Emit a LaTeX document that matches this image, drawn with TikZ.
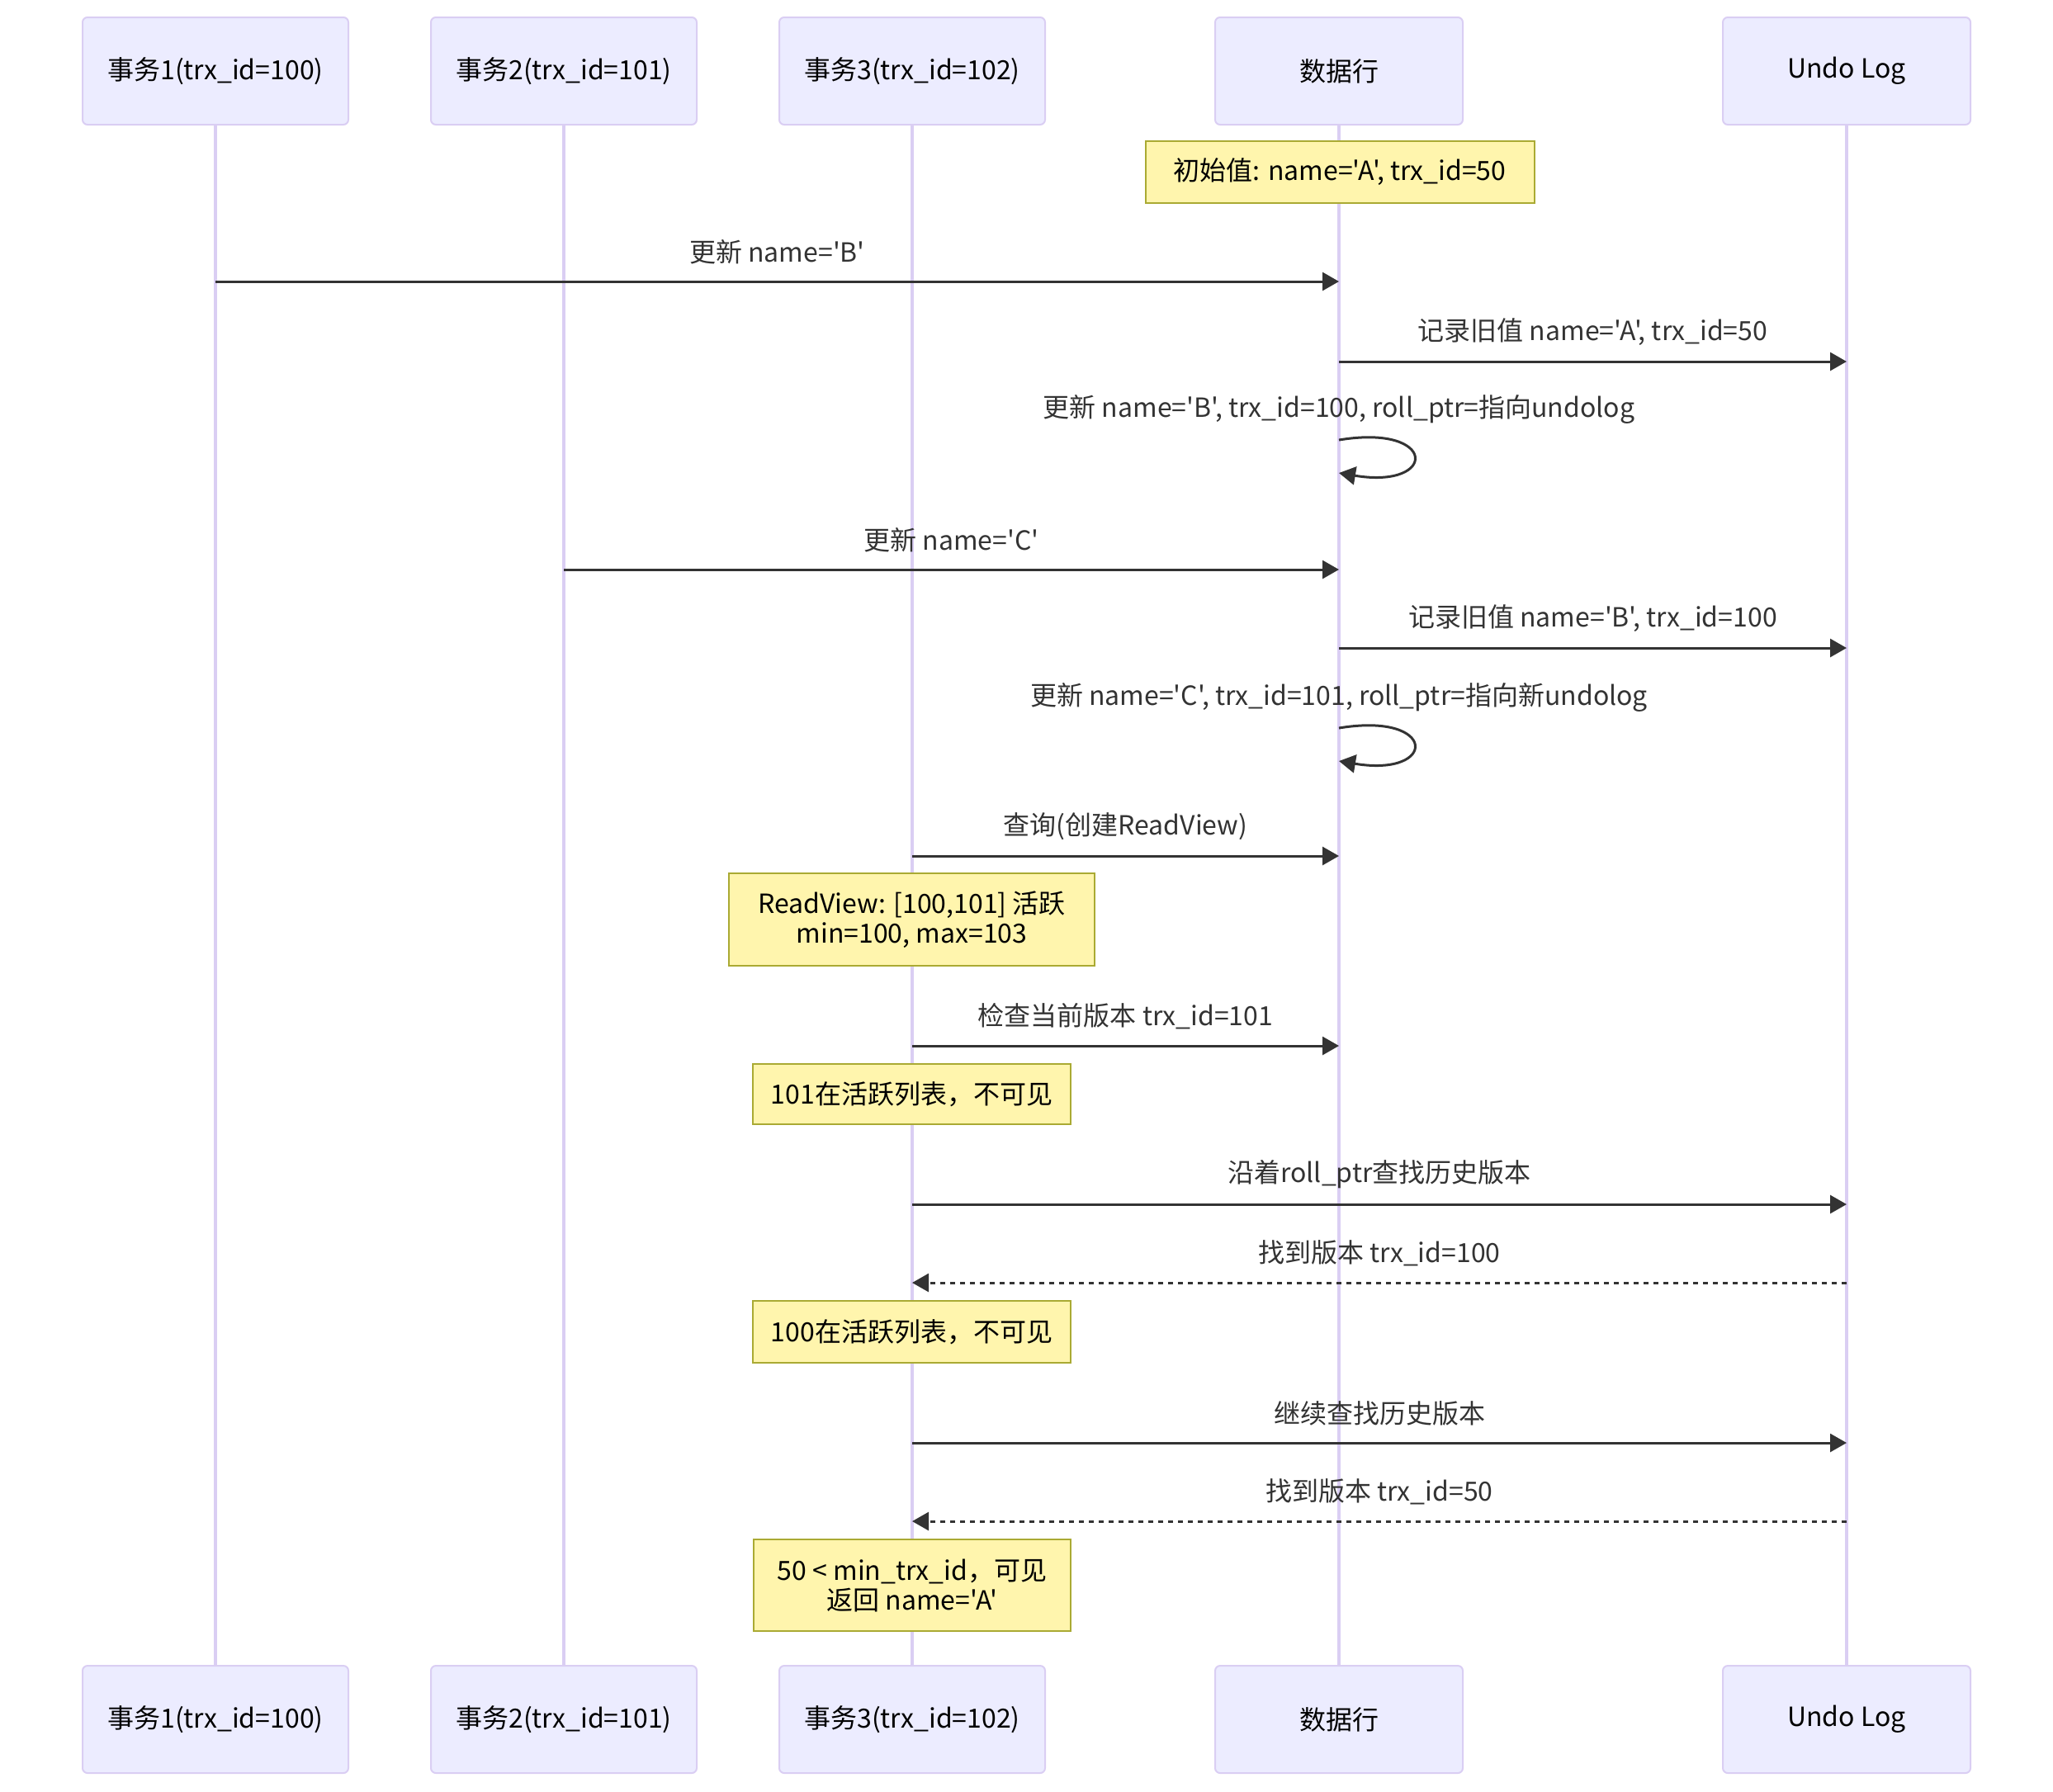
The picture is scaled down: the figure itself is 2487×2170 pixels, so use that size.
\documentclass[tikz,border=0pt]{standalone}
\usepackage{fontspec}
\usepackage{xcolor}
\usepackage{tikz}
\usetikzlibrary{positioning,calc,arrows.meta}
\newfontfamily\cjkfont{Noto Sans CJK SC}
\definecolor{actorFill}{HTML}{ECECFF}
\definecolor{actorLine}{HTML}{DACEF3}
\definecolor{noteFill}{HTML}{FFF5AD}
\definecolor{noteLine}{HTML}{AAAA33}
\definecolor{msgGray}{HTML}{333333}
\tikzstyle{actorBox}=[rectangle, rounded corners=3pt, fill=actorFill, draw=actorLine, line width=1pt, minimum height=65pt, inner sep=0pt, text=black, font=\cjkfont\fontsize{16}{19}\selectfont]
\tikzstyle{noteBox}=[rectangle, fill=noteFill, draw=noteLine, line width=1pt, inner sep=0pt, align=center, text=black, font=\cjkfont\fontsize{16}{18}\selectfont]
\tikzstyle{lifeLine}=[draw=actorLine, line width=2pt]
\tikzstyle{msgLine}=[draw=msgGray, line width=1.5pt, -{Triangle[length=10pt,width=11pt]}]
\tikzstyle{msgDash}=[msgLine, dash pattern=on 3pt off 3pt]
\tikzstyle{msgText}=[anchor=center, yshift=18pt, text=msgGray, inner sep=0pt, font=\cjkfont\fontsize{16}{19}\selectfont]

\begin{document}
\begin{tikzpicture}[x=0.5pt, y=0.5pt]
      \useasboundingbox (0,0) rectangle (2487,-2170);
      % participants, top and bottom
      \node[actorBox, minimum width=161pt] (t1) at (261,-86) {事务1(trx\_id=100)};
      \node[actorBox, minimum width=161pt] (t2) at (683,-86) {事务2(trx\_id=101)};
      \node[actorBox, minimum width=161pt] (t3) at (1105,-86) {事务3(trx\_id=102)};
      \node[actorBox, minimum width=150pt] (t4) at (1622,-86) {数据行};
      \node[actorBox, minimum width=150pt] (t5) at (2237,-86) {Undo Log};
      \node[actorBox, minimum width=161pt] (b1) at (261,-2083) {事务1(trx\_id=100)};
      \node[actorBox, minimum width=161pt] (b2) at (683,-2083) {事务2(trx\_id=101)};
      \node[actorBox, minimum width=161pt] (b3) at (1105,-2083) {事务3(trx\_id=102)};
      \node[actorBox, minimum width=150pt] (b4) at (1622,-2083) {数据行};
      \node[actorBox, minimum width=150pt] (b5) at (2237,-2083) {Undo Log};
      \draw[lifeLine] (t1) -- (b1);
      \draw[lifeLine] (t2) -- (b2);
      \draw[lifeLine] (t3) -- (b3);
      \draw[lifeLine] (t4) -- (b4);
      \draw[lifeLine] (t5) -- (b5);
      % message rows
      \coordinate (r1) at (0,-341);
      \coordinate (r2) at (0,-438);
      \coordinate (r3) at (0,-533);
      \coordinate (r3b) at (0,-573);
      \coordinate (r4) at (0,-690);
      \coordinate (r5) at (0,-785);
      \coordinate (r6) at (0,-882);
      \coordinate (r6b) at (0,-922);
      \coordinate (r7) at (0,-1037);
      \coordinate (r8) at (0,-1267);
      \coordinate (r9) at (0,-1459);
      \coordinate (r10) at (0,-1554);
      \coordinate (r11) at (0,-1748);
      \coordinate (r12) at (0,-1843);
      % notes
      \node[noteBox, minimum width=235.5pt, minimum height=37.5pt] (n0) at (1623,-208.5) {初始值: name='A', trx\_id=50};
      \node[noteBox, minimum width=221.5pt, minimum height=56pt] (n1) at (1104.5,-1114) {ReadView: [100,101] 活跃\\min=100, max=103};
      \node[noteBox, minimum width=192.5pt, minimum height=36.5pt] (n2) at (1104.5,-1325.5) {101在活跃列表，不可见};
      \node[noteBox, minimum width=192.5pt, minimum height=37.5pt] (n3) at (1104.5,-1613.5) {100在活跃列表，不可见};
      \node[noteBox, minimum width=192pt, minimum height=55.5pt] (n4) at (1105,-1920.5) {50 < min\_trx\_id，可见\\返回 name='A'};
      % messages
      \draw[msgLine] (t1 |- r1) -- node[msgText] (l1) {更新 name='B'} (t4 |- r1);
      \draw[msgLine] (t4 |- r2) -- node[msgText] (l2) {记录旧值 name='A', trx\_id=50} (t5 |- r2);
      \node[msgText, yshift=0.5pt] (l3) at (t4 |- r3) {更新 name='B', trx\_id=100, roll\_ptr=指向undolog};
      \draw[msgLine] (t4 |- r3) .. controls +(120,20) and +(120,-20) .. (t4 |- r3b);
      \draw[msgLine] (t2 |- r4) -- node[msgText] (l4) {更新 name='C'} (t4 |- r4);
      \draw[msgLine] (t4 |- r5) -- node[msgText] (l5) {记录旧值 name='B', trx\_id=100} (t5 |- r5);
      \node[msgText, yshift=0.5pt] (l6) at (t4 |- r6) {更新 name='C', trx\_id=101, roll\_ptr=指向新undolog};
      \draw[msgLine] (t4 |- r6) .. controls +(120,20) and +(120,-20) .. (t4 |- r6b);
      \draw[msgLine] (t3 |- r7) -- node[msgText] (l7) {查询(创建ReadView)} (t4 |- r7);
      \draw[msgLine] (t3 |- r8) -- node[msgText] (l8) {检查当前版本 trx\_id=101} (t4 |- r8);
      \draw[msgLine] (t3 |- r9) -- node[msgText] (l9) {沿着roll\_ptr查找历史版本} (t5 |- r9);
      \draw[msgDash] (t5 |- r10) -- node[msgText] (l10) {找到版本 trx\_id=100} (t3 |- r10);
      \draw[msgLine] (t3 |- r11) -- node[msgText] (l11) {继续查找历史版本} (t5 |- r11);
      \draw[msgDash] (t5 |- r12) -- node[msgText] (l12) {找到版本 trx\_id=50} (t3 |- r12);
    \end{tikzpicture}
\end{document}
